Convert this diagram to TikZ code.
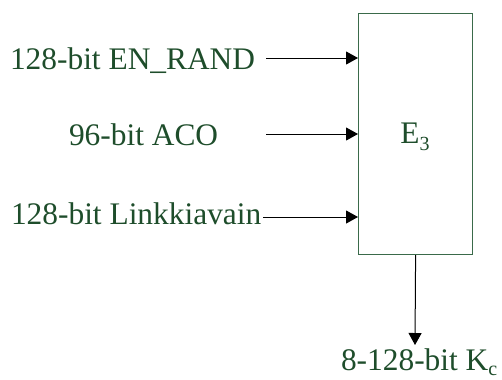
\documentclass[tikz,border=0pt]{standalone}
\usepackage{fontspec}
\setmainfont{Liberation Serif}
\usetikzlibrary{arrows.meta}
\definecolor{txtgreen}{HTML}{1E4D2B}
\definecolor{boxgreen}{HTML}{3A6A4A}
\newcommand{\mysub}[2][-7bp]{\raisebox{#1}{\fontsize{20bp}{20bp}\selectfont #2}}
\begin{document}
\begin{tikzpicture}[x=1bp,y=-1bp,
  lbl/.style={inner sep=0pt, outer sep=0pt, text=txtgreen, font=\fontsize{31.4bp}{34bp}\selectfont, anchor=base west},
  conn/.style={draw=black, line width=1bp, -{Triangle[length=12bp,width=13bp]}},
  blockbox/.style={draw=boxgreen, line width=1.2bp, fill=white}]
\useasboundingbox (0,0) rectangle (502,379);
\node[blockbox, minimum width=114bp, minimum height=241bp, inner sep=0pt, anchor=north west] (e3) at (358,13) {};
\node[lbl, anchor=base] (e3lbl) at (415,143) {E\mysub{3}};
\node[lbl] (t1) at (10,69) {128-bit EN\_RAND};
\node[lbl] (t2) at (69,145) {96-bit ACO};
\node[lbl] (t3) at (11,224) {128-bit Linkkiavain};
\node[lbl] (t4) at (341,370) {8-128-bit K\mysub[-5bp]{c}};
\coordinate (s1) at (266,58);
\coordinate (s2) at (266,134);
\coordinate (s3) at (263,217);
\coordinate (o1) at (415,345);
\draw[conn] (s1) -- (e3.west |- s1);
\draw[conn] (s2) -- (e3.west |- s2);
\draw[conn] (s3) -- (e3.west |- s3);
\draw[conn] (e3.south) -- (o1);
\end{tikzpicture}
\end{document}
